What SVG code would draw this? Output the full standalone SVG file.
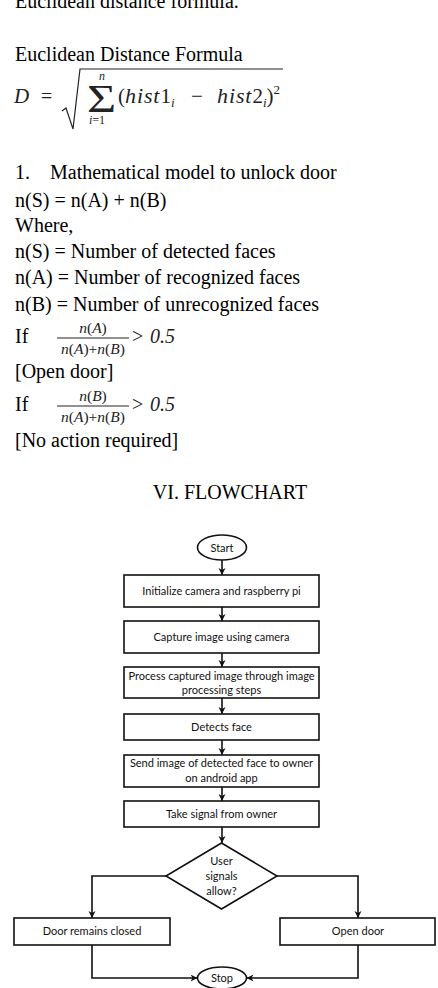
<svg xmlns="http://www.w3.org/2000/svg" width="438" height="988" viewBox="0 0 438 988">
  <style>
    .body { font-family: "Liberation Serif", "Times New Roman", serif; font-size: 20px; fill: #000; }
    .math { font-family: "Liberation Serif", "Times New Roman", serif; fill: #222; }
    .it { font-style: italic; }
    .box { fill: #fff; stroke: #111; stroke-width: 1.6; }
    .lbl { font-family: Lato, "Open Sans", sans-serif; font-size: 11px; fill: #111; text-anchor: middle; }
    .conn { fill: none; stroke: #111; stroke-width: 1.6; }
  </style>
  <defs>
    <marker id="arrow" markerUnits="userSpaceOnUse" markerWidth="8" markerHeight="8" refX="7" refY="3.5" orient="auto">
      <path d="M0,0 L7,3.5 L0,7 L2,3.5 z" fill="#111"/>
    </marker>
  </defs>

  <rect width="438" height="988" fill="#fff"/>

  <!-- Text section -->
  <text class="body" x="15" y="8">Euclidean distance formula.</text>
  <text class="body" x="15" y="61">Euclidean Distance Formula</text>

  <!-- D = sqrt( sum (hist1_i - hist2_i)^2 ) -->
  <g id="formula">
    <text class="math it" x="14" y="103" font-size="21">D</text>
    <text class="math" x="41" y="103" font-size="20">=</text>
    <path d="M62,111 L66,108 L73,129 L80,69 L283,69" fill="none" stroke="#222" stroke-width="1.2"/>
    <text class="math" transform="translate(87,112) scale(1.25,1)" font-size="40">Σ</text>
    <text class="math it" x="99" y="80" font-size="12">n</text>
    <text class="math" x="89" y="124" font-size="12"><tspan class="it">i</tspan>=1</text>
    <text class="math" y="103" font-size="21"><tspan x="118">(</tspan><tspan class="it" font-size="22" letter-spacing="0.9">hist</tspan>1<tspan class="it" font-size="13" dy="4">i</tspan><tspan x="191" dy="-4">−</tspan><tspan x="217" class="it" font-size="22" letter-spacing="0.9">hist</tspan>2<tspan class="it" font-size="13" dy="4">i</tspan><tspan dy="-4">)</tspan><tspan font-size="13" dy="-9">2</tspan></text>
  </g>

  <text class="body" x="15" y="179">1.</text>
  <text class="body" x="50" y="179">Mathematical model to unlock door</text>
  <text class="body" x="15" y="207">n(S) = n(A) + n(B)</text>
  <text class="body" x="15" y="232">Where,</text>
  <text class="body" x="15" y="258">n(S) = Number of detected faces</text>
  <text class="body" x="15" y="284">n(A) = Number of recognized faces</text>
  <text class="body" x="15" y="311">n(B) = Number of unrecognized faces</text>

  <!-- first ratio -->
  <text class="body" x="15" y="343">If</text>
  <text class="math it" x="93" y="333" font-size="15.5" text-anchor="middle">n<tspan font-style="normal">(</tspan>A<tspan font-style="normal">)</tspan></text>
  <line x1="57" y1="338" x2="129" y2="338" stroke="#222" stroke-width="1"/>
  <text class="math it" x="93" y="354" font-size="15.5" text-anchor="middle">n<tspan font-style="normal">(</tspan>A<tspan font-style="normal">)+</tspan>n<tspan font-style="normal">(</tspan>B<tspan font-style="normal">)</tspan></text>
  <text class="math" x="132" y="343" font-size="20">&gt;</text>
  <text class="math it" x="150" y="343" font-size="20">0.5</text>
  <text class="body" x="15" y="378">[Open door]</text>

  <!-- second ratio -->
  <text class="body" x="15" y="411">If</text>
  <text class="math it" x="93" y="401" font-size="15.5" text-anchor="middle">n<tspan font-style="normal">(</tspan>B<tspan font-style="normal">)</tspan></text>
  <line x1="57" y1="406" x2="129" y2="406" stroke="#222" stroke-width="1"/>
  <text class="math it" x="93" y="422" font-size="15.5" text-anchor="middle">n<tspan font-style="normal">(</tspan>A<tspan font-style="normal">)+</tspan>n<tspan font-style="normal">(</tspan>B<tspan font-style="normal">)</tspan></text>
  <text class="math" x="132" y="411" font-size="20">&gt;</text>
  <text class="math it" x="150" y="411" font-size="20">0.5</text>
  <text class="body" x="15" y="447">[No action required]</text>

  <text class="body" x="230" y="499" text-anchor="middle">VI. FLOWCHART</text>

  <!-- Flowchart connectors -->
  <g id="connectors">
    <path class="conn" d="M222,560 V575" marker-end="url(#arrow)"/>
    <path class="conn" d="M222,607 V621" marker-end="url(#arrow)"/>
    <path class="conn" d="M222,653 V667" marker-end="url(#arrow)"/>
    <path class="conn" d="M222,698 V714" marker-end="url(#arrow)"/>
    <path class="conn" d="M222,740 V755" marker-end="url(#arrow)"/>
    <path class="conn" d="M222,787 V801" marker-end="url(#arrow)"/>
    <path class="conn" d="M222,827 V843" marker-end="url(#arrow)"/>
    <path class="conn" d="M166,876 H92 V918" marker-end="url(#arrow)"/>
    <path class="conn" d="M277,876 H358 V918" marker-end="url(#arrow)"/>
    <path class="conn" d="M92,945 V978 H197.5" marker-end="url(#arrow)"/>
    <path class="conn" d="M358,945 V978 H246.5" marker-end="url(#arrow)"/>
  </g>

  <!-- Flowchart nodes -->
  <g id="start">
    <ellipse class="box" cx="222" cy="547.5" rx="24.5" ry="12.5"/>
    <text class="lbl" x="222" y="551.5">Start</text>
  </g>
  <g id="init">
    <rect class="box" x="124" y="575" width="195" height="32"/>
    <text class="lbl" x="221.5" y="595">Initialize camera and raspberry pi</text>
  </g>
  <g id="capture">
    <rect class="box" x="124" y="621" width="195" height="32"/>
    <text class="lbl" x="221.5" y="641">Capture image using camera</text>
  </g>
  <g id="process">
    <rect class="box" x="124" y="667" width="195" height="31"/>
    <text class="lbl" x="221.5" y="680">Process captured image through image</text>
    <text class="lbl" x="221.5" y="694">processing steps</text>
  </g>
  <g id="detect">
    <rect class="box" x="124" y="714" width="195" height="26"/>
    <text class="lbl" x="221.5" y="731">Detects face</text>
  </g>
  <g id="send">
    <rect class="box" x="124" y="755" width="195" height="32"/>
    <text class="lbl" x="221.5" y="767">Send image of detected face to owner</text>
    <text class="lbl" x="221.5" y="782">on android app</text>
  </g>
  <g id="signal">
    <rect class="box" x="124" y="801" width="195" height="26"/>
    <text class="lbl" x="221.5" y="818">Take signal from owner</text>
  </g>
  <g id="decision">
    <path class="box" d="M221.5,843 L277,876 L221.5,909 L166,876 Z"/>
    <text class="lbl" x="221.5" y="865">User</text>
    <text class="lbl" x="221.5" y="880">signals</text>
    <text class="lbl" x="221.5" y="895">allow?</text>
  </g>
  <g id="closed">
    <rect class="box" x="14" y="918" width="156" height="27"/>
    <text class="lbl" x="92" y="935">Door remains closed</text>
  </g>
  <g id="open">
    <rect class="box" x="280" y="918" width="155" height="27"/>
    <text class="lbl" x="358" y="935">Open door</text>
  </g>
  <g id="stop">
    <ellipse class="box" cx="222" cy="978" rx="24.5" ry="11"/>
    <text class="lbl" x="222" y="982">Stop</text>
  </g>
</svg>
